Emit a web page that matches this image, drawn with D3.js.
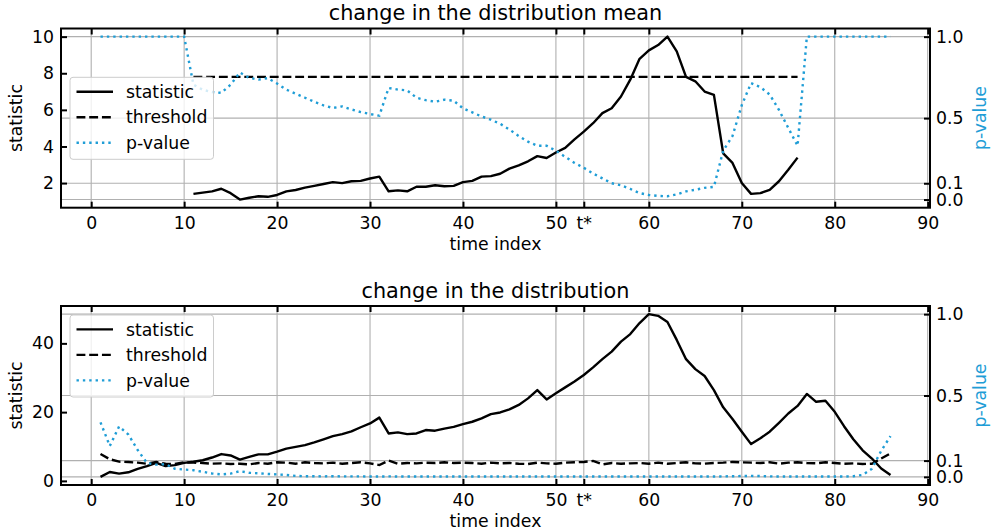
<!DOCTYPE html>
<html lang="en">
<head>
<meta charset="UTF-8">
<title>change in the distribution</title>
<script src="https://d3js.org/d3.v7.min.js"></script>
<style>
  body { margin: 0; background: #fff; }
  svg { display: block; }
  text { font-family: "DejaVu Sans", sans-serif; font-size: 17.3px; fill: #000; }
  text.title { font-size: 20.8px; }
  text.plabel { fill: #1f9dd6; }
</style>
</head>
<body>
<script>
const width = 991
const height = 531
const pColor = '#1f9dd6'

// shared x ticks, t* marks the change point
const xTickValues = [0, 10, 20, 30, 40, 50, 53, 60, 70, 80, 90]
const xTickLabels = ['0', '10', '20', '30', '40', '50', 't*', '60', '70', '80', '90']
const pTickValues = [0, 0.1, 0.5, 1.0]
const pTickLabels = ['0.0', '0.1', '0.5', '1.0']

// panel 1: change in the distribution mean
const meanStart = 11
const meanStatistic = [1.41, 1.48, 1.55, 1.69, 1.45, 1.1, 1.2, 1.28, 1.25, 1.35,
    1.55, 1.62, 1.75, 1.85, 1.95, 2.05, 2.0, 2.1, 2.12, 2.25, 2.35,
    1.55, 1.6, 1.55, 1.8, 1.8, 1.88, 1.83, 1.85, 2.05, 2.12, 2.35, 2.38, 2.51,
    2.79, 2.97, 3.19, 3.47, 3.37, 3.67, 3.92, 4.39, 4.81, 5.27, 5.82, 6.09, 6.73,
    7.65, 8.79, 9.25, 9.54, 10.0, 9.2, 7.8,
    7.56, 7.0, 6.82, 3.62, 3.1, 2.0, 1.41, 1.45, 1.63, 2.1, 2.73, 3.39]
const meanThreshold = [7.8, 7.8, 7.8, 7.8, 7.8, 7.8, 7.8, 7.8, 7.8, 7.8,
    7.8, 7.8, 7.8, 7.8, 7.8, 7.8, 7.8, 7.8, 7.8, 7.8, 7.8,
    7.8, 7.8, 7.8, 7.8, 7.8, 7.8, 7.8, 7.8, 7.8, 7.8, 7.8, 7.8, 7.8,
    7.8, 7.8, 7.8, 7.8, 7.8, 7.8, 7.8, 7.8, 7.8, 7.8, 7.8, 7.8, 7.8,
    7.8, 7.8, 7.8, 7.8, 7.8, 7.8, 7.8,
    7.8, 7.8, 7.8, 7.8, 7.8, 7.8, 7.8, 7.8, 7.8, 7.8, 7.8, 7.8]
const meanPStart = 1
const meanPValue = [1.0, 1.0, 1.0, 1.0, 1.0, 1.0, 1.0, 1.0, 1.0, 1.0,
    0.705, 0.674, 0.66, 0.655, 0.705, 0.78, 0.747, 0.736, 0.745, 0.712,
    0.675, 0.65, 0.625, 0.60, 0.578, 0.562, 0.572, 0.553, 0.537, 0.525, 0.515,
    0.685, 0.675, 0.67, 0.625, 0.61, 0.60, 0.613, 0.607, 0.56, 0.535, 0.51, 0.49, 0.465,
    0.43, 0.39, 0.355, 0.33, 0.33, 0.30, 0.262, 0.225, 0.195, 0.16, 0.13, 0.10,
    0.088, 0.065, 0.04, 0.028, 0.022, 0.02, 0.032, 0.05, 0.06, 0.072, 0.078,
    0.30, 0.39, 0.58, 0.715, 0.69, 0.645, 0.55, 0.44, 0.33,
    1.0, 1.0, 1.0, 1.0, 1.0, 1.0, 1.0, 1.0, 1.0, 1.0]
const meanYTicks = [2, 4, 6, 8, 10]

// panel 2: change in the distribution
const distStart = 1
const distStatistic = [1.17, 2.6, 2.1, 2.5, 3.5, 4.3, 5.25, 4.3, 4.6, 5.25,
    5.55, 6.0, 6.8, 7.8, 7.4, 6.2, 7.0, 7.7, 7.7, 8.5,
    9.4, 9.9, 10.4, 11.2, 12.1, 13.0, 13.6, 14.4, 15.6, 16.7,
    18.4, 13.8, 14.1, 13.6, 13.8, 14.8, 14.6, 15.2, 15.7, 16.5,
    17.2, 18.2, 19.4, 19.9, 20.8, 22.1, 24.0, 26.4, 23.7, 25.5,
    27.2, 28.9, 30.8, 33.0, 35.4, 37.6, 40.5, 42.7, 45.9, 48.5,
    48.0, 46.2, 41.0, 35.4, 32.5, 30.5, 26.4, 21.4, 18.0, 14.3,
    10.7, 12.4, 14.3, 16.9, 19.6, 21.8, 25.3, 23.0, 23.3, 20.1,
    15.9, 12.1, 8.9, 6.5, 3.6, 1.7]
const distThreshold = [7.8, 6.3, 5.6, 5.5, 5.3, 5.0, 5.5, 5.0, 4.9, 5.4,
    5.3, 5.2, 5.0, 5.1, 4.9, 5.0, 4.8, 5.2, 5.0, 5.4,
    5.3, 5.0, 5.4, 5.2, 5.1, 5.3, 5.0, 5.2, 5.4, 5.1,
    4.6, 5.9, 5.0, 5.2, 5.1, 5.3, 5.2, 5.4, 5.2, 5.3,
    5.2, 5.0, 5.3, 5.1, 5.2, 5.0, 4.9, 5.3, 5.1, 5.0,
    5.3, 5.4, 5.5, 5.8, 4.8, 5.2, 5.0, 5.1, 5.2, 5.0,
    5.3, 5.0, 5.2, 5.4, 5.1, 5.0, 5.2, 5.3, 5.5, 5.4,
    5.3, 5.2, 5.4, 5.0, 5.3, 5.4, 5.2, 5.1, 5.4, 5.2,
    5.0, 5.1, 4.9, 5.0, 6.5, 8.0]
const distPStart = 1
const distPValue = [0.335, 0.19, 0.31, 0.26, 0.165, 0.085, 0.075, 0.078, 0.05, 0.045,
    0.041, 0.031, 0.021, 0.015, 0.02, 0.035, 0.025, 0.022, 0.018, 0.015,
    0.012, 0.006, 0.004, 0.004, 0.003, 0.004, 0.003, 0.003, 0.003, 0.002,
    0.002, 0.003, 0.002, 0.002, 0.002, 0.002, 0.002, 0.002, 0.002, 0.002,
    0.002, 0.002, 0.002, 0.002, 0.002, 0.002, 0.002, 0.002, 0.002, 0.002,
    0.002, 0.002, 0.002, 0.002, 0.002, 0.002, 0.002, 0.002, 0.002, 0.002,
    0.002, 0.002, 0.002, 0.002, 0.002, 0.002, 0.002, 0.003, 0.004, 0.005,
    0.006, 0.005, 0.003, 0.002, 0.002, 0.002, 0.002, 0.002, 0.002, 0.002,
    0.002, 0.004, 0.012, 0.05, 0.16, 0.25]
const distYTicks = [0, 20, 40]

const legendNames = ['statistic', 'threshold', 'p-value']

const panels = [
    {title: 'change in the distribution mean', top: 28.5, bottom: 207.7,
     start: meanStart, stat: meanStatistic, thr: meanThreshold,
     pStart: meanPStart, pval: meanPValue, yTicks: meanYTicks, legendLoc: 'center'},
    {title: 'change in the distribution', top: 306, bottom: 485,
     start: distStart, stat: distStatistic, thr: distThreshold,
     pStart: distPStart, pval: distPValue, yTicks: distYTicks, legendLoc: 'upper'}
]

const left = 61
const right = 930
const lw = 2.4

let svg = d3.select('body').append('svg')
    .attr('width', width)
    .attr('height', height)

// matplotlib style 5% margins
function padded(ext) {
    const r = ext[1] - ext[0]
    return [ext[0] - 0.05 * r, ext[1] + 0.05 * r]
}

const allTimes = []
panels.forEach(p => {
    allTimes.push(p.start, p.start + p.stat.length - 1, p.pStart, p.pStart + p.pval.length - 1)
})
const x = d3.scaleLinear().domain(padded(d3.extent(allTimes))).range([left, right])

function styleAxis(g) {
    g.select('.domain').remove()
    g.attr('font-size', null).attr('font-family', null)
    g.selectAll('.tick line').attr('stroke', '#000').attr('stroke-width', 2)
}

function drawPanel(p) {
    const g = svg.append('g')
    const mid = (p.top + p.bottom) / 2

    const yL = d3.scaleLinear()
        .domain(padded(d3.extent(p.stat.concat(p.thr))))
        .range([p.bottom, p.top])
    const yR = d3.scaleLinear().domain(padded([0, 1])).range([p.bottom, p.top])

    // grid from the x ticks and the p-value axis
    g.append('g').selectAll('line').data(xTickValues).enter().append('line')
        .attr('x1', d => x(d)).attr('x2', d => x(d))
        .attr('y1', p.top).attr('y2', p.bottom)
        .attr('stroke', '#b0b0b0').attr('stroke-width', 1.1)
    g.append('g').selectAll('line').data(pTickValues).enter().append('line')
        .attr('x1', left).attr('x2', right)
        .attr('y1', d => yR(d)).attr('y2', d => yR(d))
        .attr('stroke', '#b0b0b0').attr('stroke-width', 1.1)

    const statLine = d3.line().x((d, i) => x(p.start + i)).y(d => yL(d))
    const pLine = d3.line().x((d, i) => x(p.pStart + i)).y(d => yR(d))

    g.append('path').datum(p.stat)
        .attr('d', statLine).attr('fill', 'none')
        .attr('stroke', '#000').attr('stroke-width', lw).attr('stroke-linejoin', 'round')
    g.append('path').datum(p.thr)
        .attr('d', statLine).attr('fill', 'none')
        .attr('stroke', '#000').attr('stroke-width', lw)
        .attr('stroke-dasharray', `${3.7 * lw} ${1.6 * lw}`)
    g.append('path').datum(p.pval)
        .attr('d', pLine).attr('fill', 'none')
        .attr('stroke', pColor).attr('stroke-width', lw)
        .attr('stroke-dasharray', `${lw} ${1.65 * lw}`)

    // legend
    const lh = 82, lwid = 143.5
    const lx = left + 9
    const ly = p.legendLoc === 'center' ? mid - lh / 2 + 0.2 : p.top + 9
    const lg = g.append('g').attr('transform', `translate(${lx},${ly})`)
    lg.append('rect')
        .attr('width', lwid).attr('height', lh).attr('rx', 3)
        .attr('fill', '#fff').attr('fill-opacity', 0.8)
        .attr('stroke', '#cccccc').attr('stroke-width', 1)
    const styles = [
        {stroke: '#000', dash: null},
        {stroke: '#000', dash: `${3.7 * lw} ${1.6 * lw}`},
        {stroke: pColor, dash: `${lw} ${1.65 * lw}`}
    ]
    legendNames.forEach((name, i) => {
        const ry = 14.4 + i * 25.5
        lg.append('line')
            .attr('x1', 6.5).attr('x2', 43).attr('y1', ry).attr('y2', ry)
            .attr('stroke', styles[i].stroke).attr('stroke-width', lw)
            .attr('stroke-dasharray', styles[i].dash)
        lg.append('text').attr('x', 56).attr('y', ry + 6.3).text(name)
    })

    // axes
    g.append('g').attr('transform', `translate(0,${p.bottom})`)
        .call(d3.axisBottom(x).tickValues(xTickValues)
            .tickFormat(d => xTickLabels[xTickValues.indexOf(d)])
            .tickSize(-6).tickPadding(9))
        .call(styleAxis)
    g.append('g').attr('transform', `translate(0,${p.top})`)
        .call(d3.axisTop(x).tickValues(xTickValues).tickFormat('').tickSize(-6))
        .call(styleAxis)
    g.append('g').attr('transform', `translate(${left},0)`)
        .call(d3.axisLeft(yL).tickValues(p.yTicks).tickSize(-6).tickPadding(7))
        .call(styleAxis)
    g.append('g').attr('transform', `translate(${right},0)`)
        .call(d3.axisRight(yR).tickValues(pTickValues)
            .tickFormat(d => pTickLabels[pTickValues.indexOf(d)])
            .tickSize(-6).tickPadding(6))
        .call(styleAxis)

    g.append('rect')
        .attr('x', left).attr('y', p.top)
        .attr('width', right - left).attr('height', p.bottom - p.top)
        .attr('fill', 'none').attr('stroke', '#000').attr('stroke-width', 2)

    // labels
    g.append('text').attr('class', 'title')
        .attr('x', (left + right) / 2).attr('y', p.top - 8.5)
        .attr('text-anchor', 'middle').text(p.title)
    g.append('text')
        .attr('x', (left + right) / 2).attr('y', p.bottom + 42)
        .attr('text-anchor', 'middle').text('time index')
    g.append('text')
        .attr('transform', `translate(21.5,${mid}) rotate(-90)`)
        .attr('text-anchor', 'middle').text('statistic')
    g.append('text').attr('class', 'plabel')
        .attr('transform', `translate(985.5,${mid}) rotate(-90)`)
        .attr('text-anchor', 'middle').text('p-value')
}

panels.forEach(drawPanel)
</script>
</body>
</html>
